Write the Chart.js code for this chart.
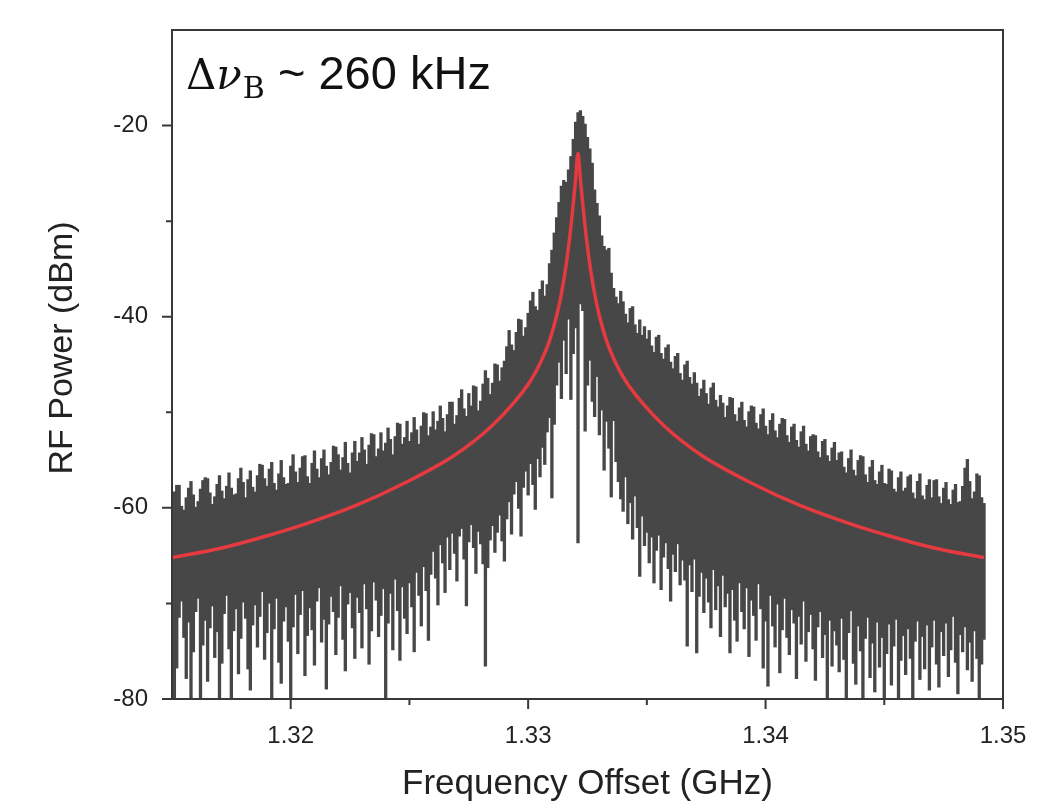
<!DOCTYPE html>
<html>
<head>
<meta charset="utf-8">
<script src="https://cdn.jsdelivr.net/npm/chart.js@4.4.1/dist/chart.umd.min.js"></script>
<style>
html,body{margin:0;padding:0;background:#ffffff;}
#wrap{width:1047px;height:805px;position:relative;}
</style>
</head>
<body>
<div id="wrap"><canvas id="c" width="1047" height="805"></canvas></div>
<script>
// ---- data ----
const freqStart = 1.315;   // GHz, first spectrum bin
const freqStep = 0.0001;   // GHz, bin spacing
const noiseTop = [
-59.1,-58.3,-57.6,-57.6,-59.8,-60.2,-58.9,-57.9,-57.2,-58.6,
-59.9,-59.3,-58.0,-57.1,-56.8,-56.9,-58.4,-59.6,-58.8,-57.5,
-56.6,-58.2,-59.0,-57.7,-56.3,-57.9,-58.6,-58.5,-56.9,-55.8,
-57.3,-58.9,-57.0,-56.1,-57.8,-58.3,-56.6,-55.4,-55.5,-56.9,
-57.7,-55.9,-55.2,-57.4,-58.1,-56.4,-55.0,-56.8,-57.5,-57.4,
-55.6,-54.4,-56.2,-57.3,-55.8,-54.6,-54.5,-56.7,-57.4,-55.3,
-54.0,-55.9,-56.8,-54.8,-53.9,-55.6,-56.5,-55.2,-53.5,-53.6,
-54.4,-56.0,-54.7,-53.1,-55.3,-56.3,-54.2,-53.0,-55.1,-54.2,
-52.6,-53.9,-55.4,-53.4,-52.2,-52.3,-54.6,-53.8,-52.1,-54.0,
-53.2,-51.6,-52.8,-54.4,-52.5,-51.1,-51.2,-53.3,-52.6,-50.9,
-53.0,-52.1,-50.5,-51.8,-53.3,-51.4,-50.0,-50.1,-52.4,-51.5,
-49.9,-51.8,-50.9,-49.3,-50.6,-52.0,-50.2,-48.9,-48.9,-51.2,
-50.3,-48.5,-47.6,-49.6,-50.4,-48.0,-49.3,-47.2,-47.3,-49.8,
-48.8,-47.0,-45.6,-46.4,-48.1,-46.9,-44.9,-45.0,-46.7,-45.3,
-44.6,-43.1,-41.4,-42.9,-43.5,-41.6,-40.2,-40.3,-42.0,-41.1,
-39.6,-38.3,-37.4,-38.9,-39.3,-37.1,-36.2,-37.8,-36.6,-34.4,
-33.0,-31.2,-29.6,-28.0,-26.3,-25.7,-25.9,-24.6,-23.2,-21.4,
-19.6,-18.6,-18.4,-19.0,-19.8,-21.2,-22.4,-23.9,-26.7,-28.1,
-29.4,-31.5,-32.6,-33.0,-32.8,-35.4,-37.0,-37.9,-38.6,-37.3,
-38.4,-39.7,-40.6,-39.1,-38.9,-40.8,-41.7,-40.3,-41.9,-41.0,
-42.3,-41.4,-43.0,-43.7,-42.1,-41.9,-43.8,-44.4,-43.2,-42.9,
-44.7,-45.4,-44.1,-43.8,-45.9,-46.6,-45.0,-44.6,-46.3,-47.0,
-45.8,-46.9,-48.3,-47.5,-46.6,-48.0,-49.1,-47.4,-46.9,-48.7,
-49.4,-48.2,-49.0,-50.5,-49.3,-48.4,-48.5,-50.2,-50.9,-49.5,
-48.9,-50.8,-51.5,-49.9,-49.3,-49.4,-51.1,-51.7,-50.2,-49.6,
-51.4,-52.3,-50.8,-50.1,-51.9,-52.6,-51.2,-50.6,-50.7,-52.4,
-53.1,-51.5,-51.2,-52.9,-53.6,-52.0,-51.4,-53.3,-54.0,-52.5,
-52.3,-52.4,-54.1,-54.7,-53.0,-52.8,-54.5,-55.1,-53.7,-53.1,
-55.0,-54.2,-54.1,-55.7,-56.3,-54.8,-53.9,-56.0,-56.6,-55.0,
-54.5,-54.6,-56.5,-57.3,-55.7,-55.0,-57.1,-57.5,-56.2,-55.5,
-57.4,-57.5,-55.9,-56.1,-58.0,-58.3,-56.8,-56.2,-58.2,-57.9,
-56.7,-56.5,-58.4,-59.0,-57.2,-56.4,-58.7,-59.1,-57.6,-57.0,
-58.9,-57.1,-57.0,-58.8,-59.5,-57.9,-57.3,-59.1,-59.6,-58.1,
-57.5,-59.4,-59.3,-57.7,-55.8,-54.9,-57.2,-59.0,-58.3,-56.4,
-56.6,-58.9,-59.5
];
const noiseBottom = [
-74.2,-80.0,-76.8,-71.5,-69.8,-73.6,-77.9,-72.0,-80.0,-75.1,
-70.9,-69.5,-80.0,-74.4,-71.8,-78.2,-72.6,-70.3,-75.7,-73.0,
-80.0,-76.3,-71.1,-69.2,-74.8,-80.0,-72.9,-70.6,-77.4,-73.7,
-69.9,-71.6,-76.9,-79.1,-72.3,-70.2,-74.6,-71.4,-68.8,-75.9,
-73.1,-70.0,-80.0,-72.7,-69.5,-76.2,-78.4,-71.9,-70.4,-74.0,
-80.0,-72.5,-69.1,-75.3,-71.2,-68.7,-77.6,-73.4,-70.5,-72.8,
-76.5,-69.8,-68.4,-74.1,-71.7,-79.0,-72.2,-69.3,-70.9,-75.4,
-71.5,-68.2,-73.8,-77.1,-70.1,-68.9,-72.6,-75.8,-69.4,-71.0,
-74.7,-68.0,-70.6,-76.4,-72.9,-67.8,-69.7,-73.5,-71.3,-68.5,
-80.0,-72.1,-69.0,-74.9,-67.5,-70.8,-76.0,-68.3,-71.6,-73.2,
-67.9,-70.4,-75.1,-66.8,-69.2,-72.4,-66.2,-68.7,-73.9,-67.0,
-64.6,-67.4,-70.2,-63.9,-65.8,-68.9,-63.1,-66.5,-62.7,-64.8,
-67.7,-63.0,-62.2,-65.4,-70.3,-63.6,-61.8,-64.2,-66.9,-62.5,
-63.8,-65.9,-76.6,-66.3,-63.4,-61.9,-64.7,-62.6,-60.8,-63.5,
-65.6,-61.2,-59.4,-62.8,-58.6,-57.3,-60.1,-63.0,-57.9,-56.2,
-58.7,-55.4,-57.6,-60.2,-54.9,-56.8,-53.7,-55.5,-52.1,-50.6,
-59.0,-51.3,-47.2,-44.8,-48.6,-42.5,-46.0,-40.3,-48.7,-43.9,
-41.2,-63.7,-38.7,-39.4,-52.0,-47.2,-44.6,-48.9,-50.5,-46.3,
-52.4,-49.8,-56.1,-51.0,-53.8,-58.9,-50.9,-55.2,-57.3,-59.1,
-60.4,-56.8,-61.7,-59.5,-63.3,-58.8,-62.1,-67.2,-60.9,-64.0,
-62.6,-65.8,-63.1,-67.9,-64.5,-62.9,-68.6,-65.2,-63.7,-66.4,
-69.8,-64.9,-66.7,-63.8,-68.1,-65.5,-67.6,-74.5,-66.0,-68.8,
-65.4,-75.2,-69.3,-66.8,-71.0,-67.4,-69.9,-72.6,-66.5,-70.7,
-68.2,-73.5,-67.1,-70.4,-69.0,-75.2,-68.6,-71.8,-74.0,-67.9,
-70.9,-72.7,-68.4,-75.6,-69.7,-71.3,-73.9,-68.0,-70.6,-76.8,
-71.9,-78.7,-69.2,-72.4,-74.6,-70.1,-77.3,-72.8,-69.5,-73.6,
-75.4,-70.7,-72.1,-77.9,-71.4,-74.3,-69.8,-76.1,-73.0,-71.2,
-74.8,-78.1,-72.5,-70.9,-75.7,-73.3,-80.0,-71.8,-76.6,-72.9,
-74.4,-77.2,-71.6,-75.9,-80.0,-73.1,-70.8,-76.3,-78.5,-72.4,
-75.0,-80.0,-73.7,-71.5,-77.8,-74.2,-79.3,-72.0,-76.7,-73.6,
-80.0,-75.3,-72.2,-78.6,-74.5,-71.7,-80.0,-76.0,-73.4,-77.5,
-72.7,-75.8,-80.0,-74.0,-71.9,-78.0,-73.5,-76.9,-72.3,-79.1,
-74.6,-71.8,-76.4,-78.8,-73.0,-75.5,-72.1,-77.7,-74.9,-71.4,
-76.2,-79.5,-73.3,-75.1,-72.5,-77.0,-74.1,-78.2,-72.9,-75.8,
-80.0,-76.4,-73.8
];
const fitFreq = [
1.3150,1.3171,1.3189,1.3206,1.3227,1.3248,1.3269,1.3284,1.3294,1.3301,1.3305,1.3309,1.3312,1.3314,1.3316,1.3318,1.3319,1.3320,
1.3321,
1.3322,1.3323,1.3324,1.3326,1.3328,1.3330,1.3333,1.3337,1.3341,1.3348,1.3358,1.3373,1.3394,1.3415,1.3436,1.3453,1.3471,1.3492
];
const fitPower = [
-65.2,-64.2,-63.0,-61.7,-59.8,-57.4,-54.5,-51.6,-49.0,-46.7,-44.9,-42.5,-39.9,-37.6,-34.6,-30.6,-28.2,-25.6,
-22.9,
-25.6,-28.2,-30.6,-34.6,-37.6,-39.9,-42.5,-44.9,-46.7,-49.0,-51.6,-54.5,-57.4,-59.8,-61.7,-63.0,-64.2,-65.2
];
const xTicks = [1.32, 1.33, 1.34, 1.35];
const xMinorTicks = [1.325, 1.335, 1.345];
const yTicks = [-80, -60, -40, -20];
const yMinorTicks = [-70, -50, -30];
const xTitle = 'Frequency Offset (GHz)';
const yTitle = 'RF Power (dBm)';

// ---- build datasets ----
const noiseFreq = noiseTop.map((_, i) => +(freqStart + i * freqStep).toFixed(4));
const noiseData = noiseFreq.map((f, i) => ({x: f, y: [noiseBottom[i], noiseTop[i]]}));
const fitData = fitFreq.map((f, i) => ({x: f, y: fitPower[i]}));

const SANS = '"Liberation Sans", Arial, sans-serif';

const framePlugin = {
  id: 'frame',
  afterDraw(chart) {
    const {ctx, chartArea: a, scales: {x, y}} = chart;
    ctx.save();
    ctx.strokeStyle = '#383838';
    ctx.lineWidth = 2;
    ctx.strokeRect(a.left, a.top, a.right - a.left, a.bottom - a.top);
    ctx.beginPath();
    xTicks.forEach(v => { const p = x.getPixelForValue(v); ctx.moveTo(p, a.bottom); ctx.lineTo(p, a.bottom + 10); });
    xMinorTicks.forEach(v => { const p = x.getPixelForValue(v); ctx.moveTo(p, a.bottom); ctx.lineTo(p, a.bottom + 6); });
    yTicks.forEach(v => { const p = y.getPixelForValue(v); ctx.moveTo(a.left, p); ctx.lineTo(a.left - 10, p); });
    yMinorTicks.forEach(v => { const p = y.getPixelForValue(v); ctx.moveTo(a.left, p); ctx.lineTo(a.left - 6, p); });
    ctx.stroke();

    // y axis title (sits a little above the plot centre in the reference)
    ctx.fillStyle = '#222222';
    ctx.save();
    ctx.translate(63, 348);
    ctx.rotate(-Math.PI / 2);
    ctx.textAlign = 'center';
    ctx.textBaseline = 'middle';
    ctx.font = '34px ' + SANS;
    ctx.fillText(yTitle, 0, 0);
    ctx.restore();

    // annotation  Δν_B ~ 260 kHz
    ctx.fillStyle = '#111111';
    ctx.textAlign = 'left';
    ctx.textBaseline = 'alphabetic';
    let ax = a.left + 14;
    const base = 89;
    ctx.font = '42px "DejaVu Serif"';
    ctx.fillText('\u0394', ax, base); ax += ctx.measureText('\u0394').width;
    ctx.font = 'italic 42px "DejaVu Serif"';
    ctx.fillText('\u03BD', ax, base); ax += ctx.measureText('\u03BD').width + 1;
    ctx.font = '30px "DejaVu Serif"';
    ctx.fillText('B', ax, base + 9); ax += ctx.measureText('B').width;
    ctx.font = '47px ' + SANS;
    ctx.fillText(' ~ 260 kHz', ax, base);
    ctx.restore();
  }
};

new Chart(document.getElementById('c'), {
  type: 'bar',
  data: {
    datasets: [
      {
        type: 'line', label: 'Lorentzian fit', data: fitData,
        borderColor: '#e53a40', borderWidth: 3.5, pointRadius: 0,
        cubicInterpolationMode: 'monotone', fill: false, order: 0
      },
      {
        type: 'bar', label: 'RF spectrum', data: noiseData,
        backgroundColor: '#474747', borderWidth: 0,
        barPercentage: 1.4, categoryPercentage: 1, grouped: false, order: 1
      }
    ]
  },
  options: {
    responsive: false,
    animation: false,
    devicePixelRatio: 1,
    layout: {padding: {top: 30, right: 44, left: 0, bottom: 0}},
    plugins: {legend: {display: false}, tooltip: {enabled: false}},
    scales: {
      x: {
        type: 'linear', min: 1.315, max: 1.35, offset: false,
        afterBuildTicks: s => { s.ticks = xTicks.map(v => ({value: v})); },
        afterFit: s => { s.height = 106; s.paddingLeft = 0; s.paddingRight = 0; },
        grid: {display: true, drawOnChartArea: false, drawTicks: false, color: 'rgba(0,0,0,0)'},
        border: {display: false},
        ticks: {font: {family: SANS, size: 24}, color: '#222222', padding: 23, maxRotation: 0, autoSkip: false,
                callback: v => Number(v).toFixed(2)},
        title: {display: true, text: xTitle, font: {family: SANS, size: 35}, color: '#222222',
                padding: {top: 0, bottom: 0}}
      },
      y: {
        type: 'linear', min: -80, max: -10,
        afterBuildTicks: s => { s.ticks = yTicks.map(v => ({value: v})); },
        afterFit: s => { s.width = 172; s.paddingTop = 0; s.paddingBottom = 0; },
        grid: {display: true, drawOnChartArea: false, drawTicks: false, color: 'rgba(0,0,0,0)'},
        border: {display: false},
        ticks: {font: {family: SANS, size: 24}, color: '#222222', padding: 24, autoSkip: false,
                callback: v => String(v)},
        title: {display: false}
      }
    }
  },
  plugins: [framePlugin]
});
</script>
</body>
</html>
